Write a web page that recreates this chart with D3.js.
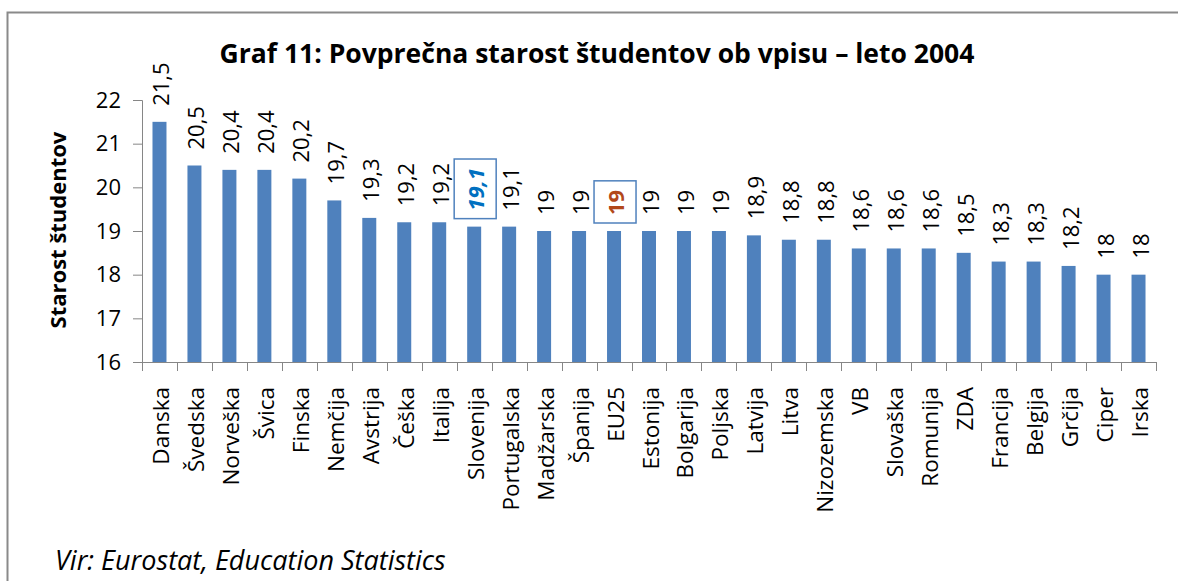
<!DOCTYPE html>
<html>
<head>
<meta charset="utf-8">
<script src="https://cdn.jsdelivr.net/npm/d3@7"></script>
<style>
  body { margin: 0; background: #fff; }
  text { font-family: "Open Sans", "Liberation Sans", sans-serif; fill: #000; }
</style>
</head>
<body>
<div id="chart"></div>
<script>
// data
var countries = ["Danska", "Švedska", "Norveška", "Švica", "Finska", "Nemčija", "Avstrija", "Češka",
  "Italija", "Slovenija", "Portugalska", "Madžarska", "Španija", "EU25", "Estonija", "Bolgarija",
  "Poljska", "Latvija", "Litva", "Nizozemska", "VB", "Slovaška", "Romunija", "ZDA", "Francija",
  "Belgija", "Grčija", "Ciper", "Irska"];
var ages = [21.5, 20.5, 20.4, 20.4, 20.2, 19.7, 19.3, 19.2, 19.2, 19.1, 19.1, 19, 19, 19, 19, 19,
  19, 18.9, 18.8, 18.8, 18.6, 18.6, 18.6, 18.5, 18.3, 18.3, 18.2, 18, 18];
var yTicks = [16, 17, 18, 19, 20, 21, 22];
// labels shown in a box
var highlight = {"Slovenija": "#0070C0", "EU25": "#B2481A"};

var data = countries.map(function(c, i) { return {name: c, value: ages[i]}; });

var width = 1178, height = 581;
var svg = d3.select("#chart").append("svg")
  .attr("width", width)
  .attr("height", height);

// outer frame
svg.append("rect")
  .attr("x", 7.5).attr("y", 12.5)
  .attr("width", 1200).attr("height", 600)
  .attr("fill", "none")
  .attr("stroke", "#8a8a8a")
  .attr("stroke-width", 2);

var plot = {left: 142, right: 1156, top: 100, bottom: 362};

var x = d3.scaleBand()
  .domain(countries)
  .range([plot.left, plot.right])
  .paddingInner(0.6)
  .paddingOuter(0.3);

var y = d3.scaleLinear()
  .domain([16, 22])
  .range([plot.bottom, plot.top]);

var axisColor = "#868686";

// title
svg.append("text")
  .attr("x", 597).attr("y", 63)
  .attr("text-anchor", "middle")
  .style("font-size", "26.5px")
  .style("font-weight", "bold")
  .text("Graf 11: Povprečna starost študentov ob vpisu – leto 2004");

// y axis
var yAxis = svg.append("g")
  .attr("transform", "translate(" + plot.left + ",0)")
  .call(d3.axisLeft(y).tickValues(yTicks).tickSize(9).tickPadding(12).tickFormat(d3.format("d")));
yAxis.select(".domain").attr("stroke", axisColor);
yAxis.selectAll(".tick line").attr("stroke", axisColor);
yAxis.selectAll(".tick text").style("font-size", "22px").style("font-family", null);

svg.append("text")
  .attr("transform", "translate(57," + ((plot.top + plot.bottom) / 2 - 1) + ") rotate(-90)")
  .attr("text-anchor", "middle")
  .attr("dominant-baseline", "central")
  .style("font-size", "22px")
  .style("font-weight", "bold")
  .text("Starost študentov");

// bars
svg.append("g")
  .selectAll("rect")
  .data(data)
  .enter()
  .append("rect")
    .attr("x", function(d) { return x(d.name); })
    .attr("y", function(d) { return y(d.value); })
    .attr("width", x.bandwidth())
    .attr("height", function(d) { return y(16) - y(d.value); })
    .attr("fill", "#4F81BD");

// x axis line + tick marks between categories
svg.append("line")
  .attr("x1", plot.left).attr("x2", plot.right)
  .attr("y1", plot.bottom + 0.5).attr("y2", plot.bottom + 0.5)
  .attr("stroke", axisColor);
svg.append("g")
  .selectAll("line")
  .data(d3.range(countries.length + 1))
  .enter()
  .append("line")
    .attr("x1", function(i) { return Math.round(plot.left + i * x.step()) + 0.5; })
    .attr("x2", function(i) { return Math.round(plot.left + i * x.step()) + 0.5; })
    .attr("y1", plot.bottom)
    .attr("y2", plot.bottom + 9)
    .attr("stroke", axisColor);

// category labels
svg.append("g")
  .selectAll("text")
  .data(data)
  .enter()
  .append("text")
    .attr("transform", function(d) {
      return "translate(" + (x(d.name) + x.bandwidth() / 2 + 1) + "," + (plot.bottom + 25) + ") rotate(-90)";
    })
    .attr("text-anchor", "end")
    .attr("dominant-baseline", "central")
    .style("font-size", "22.5px")
    .text(function(d) { return d.name; });

// value labels
var fmt = function(v) { return String(v).replace(".", ","); };
var labels = svg.append("g")
  .selectAll("text")
  .data(data)
  .enter()
  .append("text")
    .attr("transform", function(d) {
      return "translate(" + (x(d.name) + x.bandwidth() / 2 + 1) + "," + (y(d.value) - 16) + ") rotate(-90)";
    })
    .attr("text-anchor", "start")
    .attr("dominant-baseline", "central")
    .style("font-size", "22px")
    .style("fill", function(d) { return highlight[d.name] || "#000"; })
    .style("font-weight", function(d) { return highlight[d.name] ? "bold" : null; })
    .style("font-style", function(d) { return d.name === "Slovenija" ? "italic" : null; })
    .text(function(d) { return fmt(d.value); });

// boxes around highlighted labels
labels.filter(function(d) { return highlight[d.name]; }).each(function(d) {
  var b = this.getBBox();
  var cx = x(d.name) + x.bandwidth() / 2 + 1;
  var top = y(d.value) - 16 - b.x - b.width;
  var bottom = y(d.value) - 16 - b.x;
  svg.append("rect")
    .attr("x", cx - 21)
    .attr("y", top - 9)
    .attr("width", 42)
    .attr("height", bottom - top + 17)
    .attr("fill", "none")
    .attr("stroke", "#4F81BD")
    .attr("stroke-width", 1.5);
});

// source
svg.append("text")
  .attr("x", 55).attr("y", 570)
  .style("font-size", "27px")
  .style("font-style", "italic")
  .text("Vir: Eurostat, Education Statistics");
</script>
</body>
</html>
